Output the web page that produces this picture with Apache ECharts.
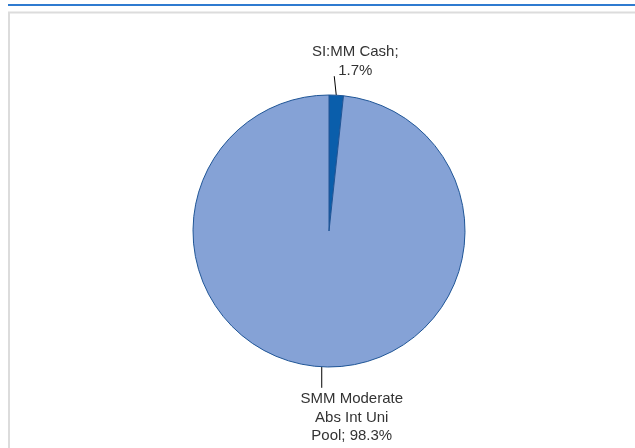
<!DOCTYPE html>
<html>
<head>
<meta charset="utf-8">
<script src="https://cdn.jsdelivr.net/npm/echarts@6/dist/echarts.min.js"></script>
<style>
html,body{margin:0;padding:0;background:#fff;}
#chart{width:635px;height:448px;}
</style>
</head>
<body>
<div id="chart"></div>
<script>
// holdings data
var names = ['SI:MM Cash', 'SMM Moderate\nAbs Int Uni\nPool'];
var values = [1.7, 98.3];
var colors = ['#0a5eab', '#85a2d6'];

var charts = echarts.init(document.getElementById('chart'));

var pieData = [];
for (var i = 0; i < names.length; i++) {
	pieData.push({
		name: names[i],
		value: values[i],
		itemStyle: {color: colors[i]}
	});
}

var option = {
	animation: false,
	graphic: [
		{ // blue header rule
			type: 'line',
			shape: {x1: 8, y1: 5, x2: 635, y2: 5},
			style: {stroke: '#2f7bd0', lineWidth: 2}
		},
		{ // gray frame
			type: 'rect',
			shape: {x: 9, y: 12.5, width: 640, height: 450},
			style: {fill: 'none', stroke: '#dcdcdc', lineWidth: 2}
		}
	],
	series: [
		{
			type: 'pie',
			center: [329, 231],
			radius: [0, 136],
			startAngle: 90,
			clockwise: true,
			data: pieData,
			itemStyle: {
				borderColor: '#1f5596',
				borderWidth: 1
			},
			label: {
				show: true,
				position: 'outside',
				formatter: function(p){
					if (p.dataIndex === 0) return p.name + ';\n' + p.value + '%';
					return p.name + '; ' + p.value + '%';
				},
				fontFamily: 'Liberation Sans, Arial, sans-serif',
				fontSize: 15,
				lineHeight: 18.5,
				color: '#333',
				align: 'center'
			},
			labelLine: {
				show: true,
				length: 15,
				length2: 0,
				lineStyle: {color: '#000', width: 1}
			},
			labelLayout: function(params){
				// place labels relative to the slice edge point, leader lines short and upright
				var p = params.labelLinePoints[0];
				if (params.dataIndex === 0) {
					return {
						x: p[0] + 19, y: p[1] - 34, align: 'center', verticalAlign: 'middle',
						labelLinePoints: [[p[0], p[1]], [p[0] - 2, p[1] - 19]]
					};
				}
				return {
					x: p[0] + 30, y: p[1] + 51, align: 'center', verticalAlign: 'middle',
					labelLinePoints: [[p[0], p[1]], [p[0], p[1] + 21]]
				};
			}
		}
	]
};
charts.setOption(option);
</script>
</body>
</html>
